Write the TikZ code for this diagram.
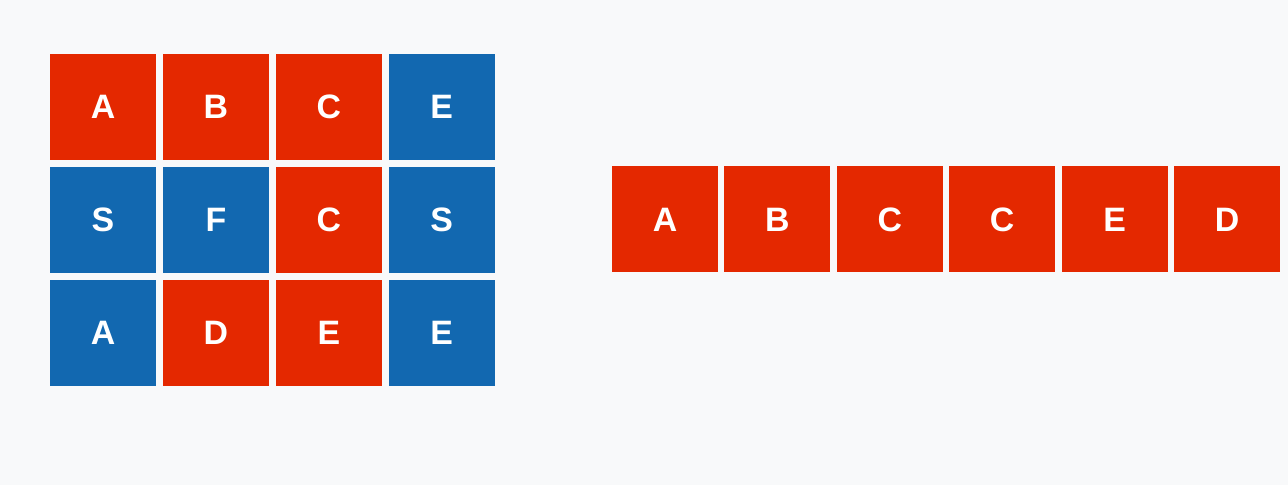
\documentclass[tikz,border=0pt]{standalone}
\usepackage{fontspec}
\setmainfont{Liberation Sans}
\usetikzlibrary{positioning}
\definecolor{cellred}{HTML}{E42800}
\definecolor{cellblue}{HTML}{1268B0}
\definecolor{pagebg}{HTML}{F8F9FA}
\tikzset{
  cell/.style={minimum size=106bp, inner sep=0pt, text=white,
    font=\fontsize{34}{34}\selectfont\bfseries},
  redcell/.style={cell, fill=cellred},
  bluecell/.style={cell, fill=cellblue},
}
\begin{document}
\begin{tikzpicture}[x=1bp, y=-1bp, node distance=6.5bp]
        \fill [pagebg] (0,0) rectangle (1288,485);
        \useasboundingbox (0,0) rectangle (1288,485);
        % grid on the left
        \node [redcell] (g11) at (103,107) {A};
        \node [redcell, right=of g11] (g12) {B};
        \node [redcell, right=of g12] (g13) {C};
        \node [bluecell, right=of g13] (g14) {E};
        \node [bluecell, below=of g11] (g21) {S};
        \node [bluecell, right=of g21] (g22) {F};
        \node [redcell, right=of g22] (g23) {C};
        \node [bluecell, right=of g23] (g24) {S};
        \node [bluecell, below=of g21] (g31) {A};
        \node [redcell, right=of g31] (g32) {D};
        \node [redcell, right=of g32] (g33) {E};
        \node [bluecell, right=of g33] (g34) {E};
        % word on the right
        \begin{scope}[node distance=6bp]
        \node [redcell] (w1) at (665,219.5) {A};
        \node [redcell, right=of w1] (w2) {B};
        \node [redcell, right=of w2] (w3) {C};
        \node [redcell, right=of w3] (w4) {C};
        \node [redcell, right=of w4] (w5) {E};
        \node [redcell, right=of w5] (w6) {D};
        \end{scope}
    \end{tikzpicture}
\end{document}
